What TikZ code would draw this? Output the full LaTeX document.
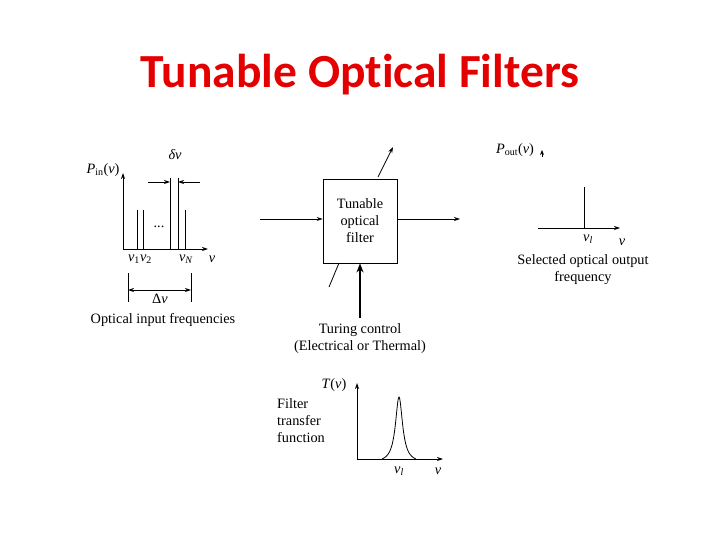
\documentclass[tikz,border=0pt]{standalone}
\usepackage{fontspec}
\setmainfont{Liberation Serif}
\newfontfamily\titlefont[Ligatures=CommonOff]{Carlito}
\usetikzlibrary{arrows.meta}
\definecolor{titlered}{RGB}{228,0,0}
\newcommand{\nuit}{\textit{ν}}
\begin{document}
\begin{tikzpicture}[x=1pt,y=-1pt,
  every node/.style={font=\fontsize{14.3}{17}\selectfont, inner sep=0pt},
  ln/.style={line width=0.8pt},
  ar/.style={ln, -{Stealth[length=6pt,width=4pt]}},
  dar/.style={ln, {Stealth[length=6pt,width=4pt]}-{Stealth[length=6pt,width=4pt]}}]
\useasboundingbox (0,0) rectangle (720,540);
% title
\node[font=\titlefont\bfseries\fontsize{47.5}{52}\selectfont, text=titlered] (title) at (360,75) {Tunable Optical Filters};

% ---------- input spectrum ----------
\coordinate (o1) at (123,249);
\coordinate (y1) at (123,173);
\coordinate (x1) at (208,249);
\draw[ar] (o1) -- (y1);
\draw[ar] (o1) -- (x1);
\foreach \xx in {137,143,185} \draw[ln] (\xx,210) -- (\xx,249);
\foreach \xx in {170,178} \draw[ln] (\xx,178) -- (\xx,249);
\draw[ar] (148,182) -- (170,182);
\draw[ar] (200,182) -- (178,182);
\node (dots) at (159,227) {...};
\node (pin) at (103,170) {\textit{P}\textsubscript{in}(\nuit)};
\node (dnu) at (175,155) {\textit{δν}};
\node (nu12) at (140,259) {\nuit\textsubscript{1}\nuit\textsubscript{2}};
\node (nuN) at (186,259) {\nuit\textsubscript{\textit{N}}};
\node (nuin) at (212,259) {\nuit};
\draw[ln] (128,273) -- (128,302);
\draw[ln] (191,273) -- (191,302);
\draw[dar] (128,290) -- (191,290);
\node (Dnu) at (160,299) {Δ\nuit};
\node (inlab) at (163,320) {Optical input frequencies};

% ---------- filter box ----------
\node[draw, ln, minimum width=74pt, minimum height=84pt, align=center] (filter) at (360,221) {Tunable\\optical\\filter};
\coordinate (in) at (260,219);
\coordinate (out) at (460,219);
\draw[ar] (in) -- (in -| filter.west);
\draw[ar] (out -| filter.east) -- (out);
\coordinate (d1) at (378,177);
\coordinate (d2) at (393,147);
\draw[ar] (d1) -- (d2);
\coordinate (d3) at (339,263);
\coordinate (d4) at (329,287);
\draw[ln] (d3) -- (d4);
\coordinate (tc) at (360,318);
\draw[line width=2.4pt, -{Stealth[length=9pt,width=7pt]}] (tc) -- (filter.south);
\node[align=center] (tune) at (360,339) {Turing control\\(Electrical or Thermal)};

% ---------- output spectrum ----------
\node (pout) at (515,150) {\textit{P}\textsubscript{out}(\nuit)};
\draw[ln, -{Stealth[length=5pt,width=4pt]}] (542,157) -- (542,150);
\coordinate (o2) at (538,228);
\coordinate (x2) at (620,228);
\draw[ar] (o2) -- (x2);
\draw[ln] (584,187) -- (584,228);
\node (nul) at (588,239) {\nuit\textsubscript{\textit{l}}};
\node (nuout) at (622,242) {\nuit};
\node[align=center] (outlab) at (583,270) {Selected optical output\\frequency};

% ---------- transfer function ----------
\coordinate (o3) at (357,459);
\coordinate (y3) at (357,383);
\coordinate (x3) at (443,459);
\draw[ar] (o3) -- (y3);
\draw[ar] (o3) -- (x3);
\draw[ln] plot[domain=382:416, samples=90, smooth] (\x, {459-62*(1/(1+((\x-399)/4.3)^2)-0.06)/0.94});
\node (Tnu) at (334,385) {\textit{T}(\nuit)};
\node (nul2) at (399,471) {\nuit\textsubscript{\textit{l}}};
\node (nu3) at (438,471) {\nuit};
\node[align=left, anchor=west] (tflab) at (277,421) {Filter\\transfer\\function};
\end{tikzpicture}
\end{document}
